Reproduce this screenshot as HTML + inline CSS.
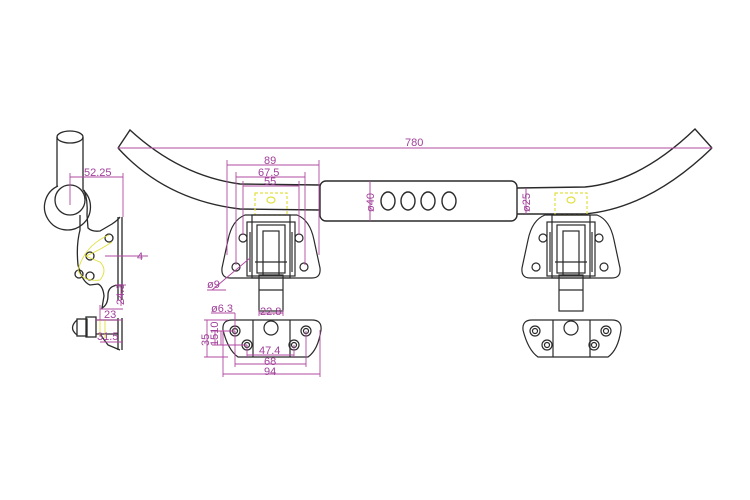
<!DOCTYPE html>
<html><head><meta charset="utf-8"><style>
html,body{margin:0;padding:0;background:#fff;}
svg{display:block;}
text{font-family:"Liberation Sans",sans-serif;fill:#a0409a;}
</style></head><body>
<svg width="750" height="500" viewBox="0 0 750 500" xmlns="http://www.w3.org/2000/svg">
<g fill="none" stroke="#2a2a2a" stroke-width="1.4">
<path d="M118,148 L130,130 Q180,176 240,184 L320,185"/>
<path d="M118,148 Q165,200 240,209 L320,210"/>
<path d="M712,148 L695,129 Q640,182 585,187 L517,188"/>
<path d="M712,148 Q650,208 585,214 L517,214"/>
<rect x="320" y="181" width="197" height="40" rx="6"/>
<ellipse cx="388" cy="201" rx="7" ry="9"/>
<ellipse cx="408" cy="201" rx="7" ry="9"/>
<ellipse cx="428" cy="201" rx="7" ry="9"/>
<ellipse cx="449" cy="201" rx="7" ry="9"/>
</g>
<g stroke="#b04aa0" stroke-width="1" fill="none">
<line x1="118" y1="148" x2="712" y2="148"/>
<line x1="370" y1="181" x2="370" y2="221"/>
<line x1="526" y1="188" x2="526" y2="214"/>
</g>
<text x="405" y="146" font-size="11">780</text>
<text font-size="11" transform="translate(374,212) rotate(-90)">ø40</text>
<text font-size="11" transform="translate(530,212) rotate(-90)">ø25</text>

<g id="br">
<g fill="none" stroke="#2a2a2a" stroke-width="1.2">
<rect x="255" y="193" width="32" height="22" stroke="#e0e040" stroke-dasharray="3,2"/>
<ellipse cx="271" cy="200" rx="4" ry="3" stroke="#e0e040"/>
<path d="M245,215 L297,215 Q310,220 314,240 L320,268 Q321,278 312,278 L230,278 Q221,278 222,268 L228,240 Q232,220 245,215 Z"/>
<circle cx="243" cy="238" r="4"/><circle cx="299" cy="238" r="4"/>
<circle cx="236" cy="267" r="4"/><circle cx="304" cy="267" r="4"/>
<rect x="247" y="222" width="48" height="54"/>
<rect x="252" y="215" width="38" height="63"/>
<rect x="257" y="225" width="28" height="48"/>
<rect x="263" y="231" width="16" height="44"/>
<line x1="250" y1="232" x2="250" y2="272"/><line x1="292" y1="232" x2="292" y2="272"/>
<line x1="255" y1="262" x2="287" y2="262"/>
<rect x="259" y="275" width="24" height="36"/>
<line x1="259" y1="290" x2="283" y2="290"/>
<path d="M232,320 L312,320 Q322,320 321,330 Q318,350 308,357 L238,357 Q228,350 223,330 Q222,320 232,320 Z"/>
<line x1="253" y1="320" x2="253" y2="357"/><line x1="290" y1="320" x2="290" y2="357"/>
<circle cx="235" cy="331" r="5"/><circle cx="235" cy="331" r="2.5"/>
<circle cx="306" cy="331" r="5"/><circle cx="306" cy="331" r="2.5"/>
<circle cx="247" cy="345" r="5"/><circle cx="247" cy="345" r="2.5"/>
<circle cx="294" cy="345" r="5"/><circle cx="294" cy="345" r="2.5"/>
<circle cx="271" cy="328" r="7"/>
</g>
</g>
<use href="#br" transform="translate(300,0)"/>

<g stroke="#b04aa0" stroke-width="0.9" fill="none">
<line x1="227" y1="165" x2="319" y2="165"/><line x1="227" y1="160" x2="227" y2="255"/><line x1="319" y1="160" x2="319" y2="255"/>
<line x1="236" y1="177" x2="305" y2="177"/><line x1="236" y1="172" x2="236" y2="265"/><line x1="305" y1="172" x2="305" y2="265"/>
<line x1="243" y1="186" x2="299" y2="186"/><line x1="243" y1="181" x2="243" y2="235"/><line x1="299" y1="181" x2="299" y2="235"/>
<line x1="212" y1="290" x2="250" y2="258"/><line x1="207" y1="290" x2="226" y2="290"/>
<line x1="259" y1="313" x2="283" y2="313"/><line x1="259" y1="310" x2="259" y2="316"/><line x1="283" y1="310" x2="283" y2="316"/>
<line x1="211" y1="313" x2="235" y2="313"/><line x1="235" y1="313" x2="235" y2="330"/>
<line x1="204" y1="320" x2="228" y2="320"/><line x1="204" y1="357" x2="228" y2="357"/>
<line x1="207" y1="320" x2="207" y2="357"/><line x1="215" y1="331" x2="215" y2="345"/><line x1="221" y1="331" x2="221" y2="345"/>
<line x1="212" y1="331" x2="235" y2="331"/><line x1="212" y1="345" x2="247" y2="345"/>
<line x1="247" y1="355" x2="294" y2="355"/><line x1="247" y1="345" x2="247" y2="358"/><line x1="294" y1="345" x2="294" y2="358"/>
<line x1="235" y1="364" x2="306" y2="364"/><line x1="235" y1="331" x2="235" y2="367"/><line x1="306" y1="331" x2="306" y2="367"/>
<line x1="223" y1="374" x2="320" y2="374"/><line x1="223" y1="330" x2="223" y2="377"/><line x1="320" y1="330" x2="320" y2="377"/>
</g>
<g font-size="11">
<text x="264" y="164">89</text>
<text x="258" y="176">67.5</text>
<text x="264" y="185">55</text>
<text x="207" y="288">ø9</text>
<text x="260" y="315">22.8</text>
<text x="211" y="312">ø6.3</text>
<text transform="translate(209,346) rotate(-90)">35</text>
<text transform="translate(218,346) rotate(-90)">1510</text>
<text x="259" y="354">47.4</text>
<text x="264" y="365">68</text>
<text x="264" y="375">94</text>
</g>

<g fill="none" stroke="#2a2a2a" stroke-width="1.3">
<ellipse cx="70" cy="137" rx="13" ry="6"/>
<line x1="57" y1="137" x2="57" y2="186"/><line x1="83" y1="137" x2="83" y2="190"/>
<path d="M58,186 A23,23 0 1 0 83,190"/>
<circle cx="70" cy="200" r="15"/>
<path d="M84,190 Q88,200 87,215 L88,228 Q92,232 100,231 L112,224 Q118,220 120,217"/>
<path d="M80,215 L80,230 Q76,245 78,265 Q82,282 90,285 L98,284 Q103,286 104,296 L102,308 Q108,305 108,295 Q108,286 118,285 L122,285"/>
<line x1="118" y1="217" x2="118" y2="300"/><line x1="122" y1="217" x2="122" y2="300"/>
<circle cx="109" cy="238" r="4"/><circle cx="90" cy="256" r="4"/>
<circle cx="79" cy="274" r="4"/><circle cx="90" cy="276" r="4"/>
<rect x="77" y="319" width="10" height="17"/>
<rect x="86" y="317" width="10" height="20"/>
<path d="M77,320 Q68,328 77,335"/>
<line x1="96" y1="320" x2="118" y2="320"/><line x1="96" y1="334" x2="118" y2="334"/>
<path d="M100,334 L108,345 L120,350"/>
<line x1="118" y1="318" x2="118" y2="350"/><line x1="122" y1="318" x2="122" y2="350"/>
</g>
<g fill="none" stroke="#e0e040" stroke-width="0.9">
<path d="M109,235 Q85,245 78,270 Q82,282 100,280 Q108,270 100,262 Q90,258 86,256 Q100,250 112,242"/>
<path d="M97,320 L105,320 L105,338 M100,320 L100,336"/>
</g>
<g stroke="#b04aa0" stroke-width="0.9" fill="none">
<line x1="70" y1="177" x2="123" y2="177"/><line x1="70" y1="173" x2="70" y2="205"/><line x1="123" y1="173" x2="123" y2="217"/>
<line x1="105" y1="256" x2="148" y2="256"/>
<line x1="121" y1="285" x2="121" y2="306"/><line x1="115" y1="285" x2="126" y2="285"/>
<line x1="100" y1="309" x2="123" y2="309"/><line x1="100" y1="305" x2="100" y2="320"/>
<line x1="100" y1="342" x2="123" y2="342"/>
<line x1="95" y1="320" x2="123" y2="320"/>
</g>
<g font-size="11">
<text x="84" y="176">52.25</text>
<text x="137" y="260">4</text>
<text transform="translate(124,305) rotate(-90)">24.3</text>
<text x="104" y="318">23</text>
<text x="97" y="340">31.5</text>
</g>
</svg>
</body></html>
